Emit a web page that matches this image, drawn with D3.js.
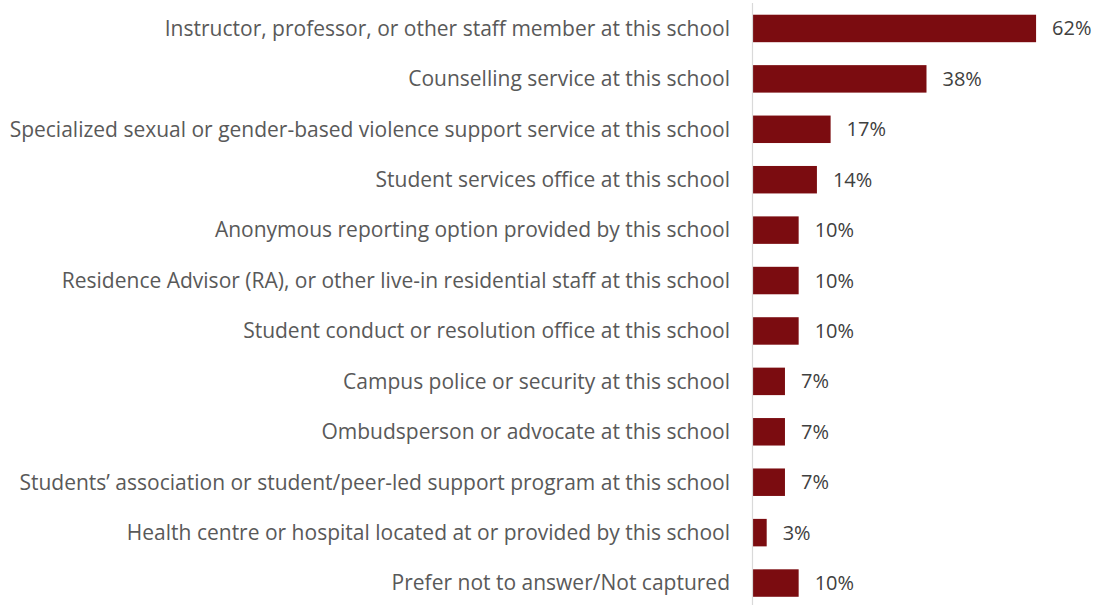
<!DOCTYPE html>
<html><head><meta charset="utf-8">
<script src="https://cdn.jsdelivr.net/npm/d3@7"></script>
<style>body{margin:0;background:#fff;} svg{display:block;}</style>
</head><body>
<svg id="c" width="1096" height="605"></svg>
<script>
const categories = [
  "Instructor, professor, or other staff member at this school",
  "Counselling service at this school",
  "Specialized sexual or gender-based violence support service at this school",
  "Student services office at this school",
  "Anonymous reporting option provided by this school",
  "Residence Advisor (RA), or other live-in residential staff at this school",
  "Student conduct or resolution office at this school",
  "Campus police or security at this school",
  "Ombudsperson or advocate at this school",
  "Students\u2019 association or student/peer-led support program at this school",
  "Health centre or hospital located at or provided by this school",
  "Prefer not to answer/Not captured"
];
const values = [62, 38, 17, 14, 10, 10, 10, 7, 7, 7, 3, 10];
const valueLabels = ["62%","38%","17%","14%","10%","10%","10%","7%","7%","7%","3%","10%"];

const svg = d3.select("#c");
const x0 = 753;
const x = d3.scaleLinear().domain([0, 70]).range([x0, x0 + 319.6]);
const y = d3.scaleBand().domain(categories).range([3.25, 608.25]).paddingInner(0.455).paddingOuter(0.2275);
const font = "'Open Sans', sans-serif";

svg.selectAll("rect.bar").data(categories).join("rect")
  .attr("class","bar")
  .attr("x", x(0))
  .attr("y", d => y(d))
  .attr("width", (d,i) => x(values[i]) - x(0))
  .attr("height", y.bandwidth())
  .attr("fill", "#7B0C10");

svg.append("line")
  .attr("x1", x0 - 0.5).attr("x2", x0 - 0.5)
  .attr("y1", 3).attr("y2", 605)
  .attr("stroke", "#d9d9d9").attr("stroke-width", 1.2);

svg.selectAll("text.cat").data(categories).join("text")
  .attr("class","cat")
  .attr("x", 730)
  .attr("y", d => y(d) + y.bandwidth()/2)
  .attr("dy", "0.35em")
  .attr("text-anchor", "end")
  .attr("font-family", font)
  .attr("font-size", 21)
  .attr("fill", "#595959")
  .text(d => d);

svg.selectAll("text.val").data(categories).join("text")
  .attr("class","val")
  .attr("x", (d,i) => x(values[i]) + 16)
  .attr("y", d => y(d) + y.bandwidth()/2)
  .attr("dy", "0.35em")
  .attr("font-family", font)
  .attr("font-size", 20)
  .attr("fill", "#404040")
  .text((d,i) => valueLabels[i]);
</script>
</body></html>
